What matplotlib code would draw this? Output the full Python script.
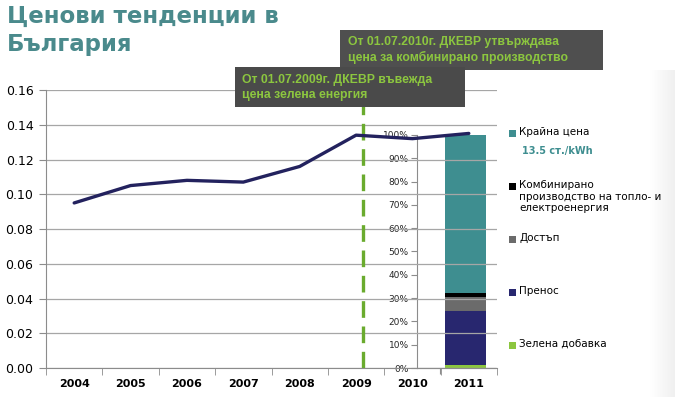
import numpy as np
import matplotlib
matplotlib.use("Agg")
import matplotlib.pyplot as plt
from matplotlib.patches import Rectangle
from matplotlib.colors import LinearSegmentedColormap

# line data
years = ['2004', '2005', '2006', '2007', '2008', '2009', '2010', '2011']
price = [0.095, 0.105, 0.108, 0.107, 0.116, 0.134, 0.132, 0.135]

# 2011 structure (bottom -> top), percent
parts = ['Зелена добавка', 'Пренос', 'Достъп', 'Комбинирано', 'Крайна цена']
shares = [1.5, 23.1, 5.8, 2.0, 67.6]
part_colors = ['#8cc63f', '#28276f', '#6b6b6b', '#000000', '#3e8e90']

# legend (top -> bottom)
leg_labels = ['Крайна цена', 'Комбинирано\nпроизводство на топло- и\nелектроенергия',
              'Достъп', 'Пренос', 'Зелена добавка']
leg_colors = ['#3e8e90', '#000000', '#6b6b6b', '#28276f', '#8cc63f']

note_2009 = 'От 01.07.2009г. ДКЕВР въвежда\nцена зелена енергия'
note_2010 = 'От 01.07.2010г. ДКЕВР утвърждава\nцена за комбинирано производство'

W, H = 675, 397
fig = plt.figure(figsize=(6.75, 3.97), dpi=100)
fig.patch.set_facecolor('white')

def fx(px):
    return px / W
def fy(py):
    return 1 - py / H

# faint slide gradient on the right
gax = fig.add_axes([fx(650), 0, fx(25), fy(70)], zorder=0)
grad = np.linspace(0.0, 1.0, 50).reshape(1, -1)
gax.imshow(grad, aspect='auto', cmap=LinearSegmentedColormap.from_list('g', ['#ffffff', '#f0f0f0']))
gax.axis('off')

# title
fig.text(fx(7), fy(5), 'Ценови тенденции в\nБългария', color='#4a8a8c', fontsize=16.5,
         fontweight='bold', family='DejaVu Sans', va='top', ha='left', linespacing=1.3)

# inset bar axes (drawn below main axes)
bx = fig.add_axes([fx(417), fy(368), fx(78), fy(135) - fy(368)], zorder=1)
bottom = 0
for v, c in zip(shares, part_colors):
    bx.bar(0.622, v, width=0.526, bottom=bottom, color=c, edgecolor='none')
    bottom += v
bx.set_xlim(0, 1)
bx.set_ylim(0, 100)
bx.patch.set_alpha(0)
bx.set_yticks(range(0, 101, 10))
bx.set_yticklabels([f'{t}%' for t in range(0, 101, 10)], fontsize=6.5, color='#262626')
bx.set_xticks([0.3])
bx.set_xticklabels([''])
for s in ['top', 'right']:
    bx.spines[s].set_visible(False)
for s in ['left', 'bottom']:
    bx.spines[s].set_color('#8c8c8c')
bx.tick_params(axis='y', length=4, color='#8c8c8c', pad=2)
bx.tick_params(axis='x', length=4, color='#8c8c8c')

# main axes
ax = fig.add_axes([fx(46), fy(368), fx(497 - 46), fy(90) - fy(368)], zorder=2)
ax.patch.set_alpha(0)
x = np.arange(len(years))
ax.plot(x, price, color='#23225e', lw=2.4, solid_capstyle='round', zorder=3)
ax.set_xlim(-0.5, len(years) - 0.5)
ax.set_ylim(0, 0.16)
yt = np.arange(0, 0.161, 0.02)
ax.set_yticks(yt)
ax.set_yticklabels([f'{t:.2f}' for t in yt], fontsize=9, fontweight='medium')
ax.set_xticks(x)
ax.set_xticklabels(years, fontsize=8, fontweight='bold')
ax.set_xticks(np.arange(-0.5, len(years)), minor=True)
ax.tick_params(axis='x', which='major', length=0, pad=8)
ax.tick_params(axis='x', which='minor', length=5, color='#8c8c8c')
ax.tick_params(axis='y', length=5, color='#8c8c8c', pad=4)
ax.grid(axis='y', color='#a6a6a6', lw=0.9)
ax.set_axisbelow(True)
for s in ['top', 'right']:
    ax.spines[s].set_visible(False)
for s in ['left', 'bottom']:
    ax.spines[s].set_color('#8c8c8c')

# dashed marker for mid-2009
ax.plot([5.12, 5.12], [0, 0.17], color='#6aab2e', lw=2.4, ls=(0, (5, 2.6)), clip_on=False, zorder=2)

# annotation boxes
fig.patches.append(Rectangle((fx(340), fy(70)), fx(263), fy(30) - fy(70), transform=fig.transFigure,
                             facecolor='#4f4f4f', edgecolor='none', zorder=5))
fig.text(fx(348), fy(50), note_2010, color='#8cc63f', fontsize=8.8, fontweight='bold',
         family='Liberation Sans', va='center', ha='left', linespacing=1.3, zorder=6)
fig.patches.append(Rectangle((fx(235), fy(107)), fx(230), fy(67) - fy(107), transform=fig.transFigure,
                             facecolor='#4a4a4a', edgecolor='none', zorder=7))
fig.text(fx(242), fy(87.5), note_2009, color='#8cc63f', fontsize=8.8, fontweight='bold',
         family='Liberation Sans', va='center', ha='left', linespacing=1.3, zorder=8)

# legend
for i, (lab, c) in enumerate(zip(leg_labels, leg_colors)):
    ytop = 133 + 53 * i
    fig.patches.append(Rectangle((fx(509), fy(ytop + 4)), fx(7), fy(ytop - 3) - fy(ytop + 4),
                                 transform=fig.transFigure, facecolor=c, edgecolor='none'))
    fig.text(fx(519), fy(ytop - 6), lab, fontsize=7.5, va='top', ha='left', linespacing=1.2)
fig.text(fx(522), fy(151), '13.5 ст./kWh', color='#3e8e90', fontsize=7, fontweight='bold',
         va='center', ha='left')

fig.savefig('out.png', dpi=100)
